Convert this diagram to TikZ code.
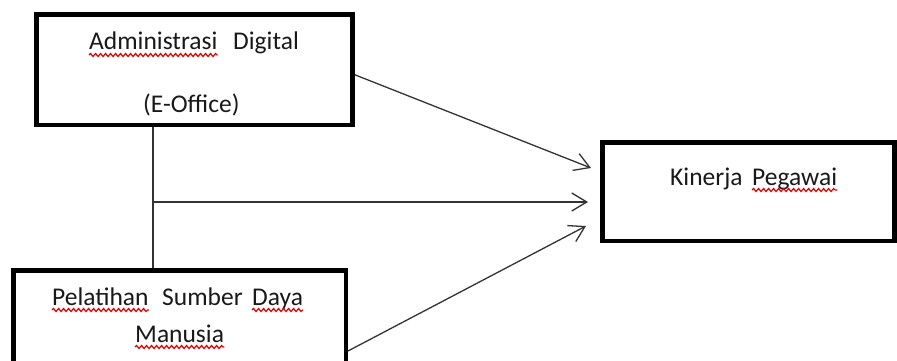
\documentclass[tikz,border=0pt]{standalone}
\usepackage{fontspec}
\setmainfont{Carlito}
\usetikzlibrary{arrows.meta,decorations.pathmorphing}
\tikzset{
  box/.style={draw=black, line width=4.5pt, inner sep=0pt},
  lbl/.style={anchor=base west, inner sep=0pt, text=black!90, font=\fontsize{25.5}{30}\selectfont},
  conn/.style={draw=black!80, line width=1.3pt},
  arr/.style={conn, -{Straight Barb[length=15pt,width=18pt,line width=1.3pt]}},
  squig/.style={draw=red!90!black, line width=1.2pt, decorate, decoration={snake, amplitude=1.5pt, segment length=5pt}}
}
\newcommand\sq[1]{\draw[squig] ([yshift=-5pt]#1.base west) -- ([yshift=-5pt]#1.base east);}
\begin{document}
\begin{tikzpicture}[x=1pt,y=-1pt]
\useasboundingbox (0,0) rectangle (897,361);
\clip (0,0) rectangle (897,361);
\fill[white] (0,0) rectangle (897,361);
\node[box, minimum width=316pt, minimum height=110.5pt] (boxA) at (194.5,69.75) {};
\node[box, minimum width=332.5pt, minimum height=129pt] (boxB) at (179.5,335) {};
\node[box, minimum width=292pt, minimum height=98.3pt] (boxC) at (748.5,191.65) {};
\node[lbl] (wA1) at (89,50) {Administrasi};
\node[lbl] (wA2) at (233,50) {Digital};
\node[lbl] (wA3) at (143,112) {(E-Office)};
\node[lbl] (wB1) at (52,305) {Pelatihan};
\node[lbl] (wB2) at (162,305) {Sumber};
\node[lbl] (wB3) at (252,305) {Daya};
\node[lbl] (wB4) at (135,342) {Manusia};
\node[lbl] (wC1) at (670,185) {Kinerja};
\node[lbl] (wC2) at (752,185) {Pegawai};
\sq{wA1}
\sq{wB1}
\sq{wB3}
\sq{wB4}
\sq{wC2}
\coordinate (J) at (153,202);
\coordinate (eA) at (591,168);
\coordinate (eJ) at (588,202);
\coordinate (eB) at (586,226);
\draw[conn] (boxA.south -| J) -- (boxB.north -| J);
\draw[arr] (J) -- (eJ);
\draw[arr] ([yshift=-5pt]boxA.east) -- (eA);
\draw[arr] ([yshift=-16pt]boxB.east) -- (eB);
\end{tikzpicture}
\end{document}
